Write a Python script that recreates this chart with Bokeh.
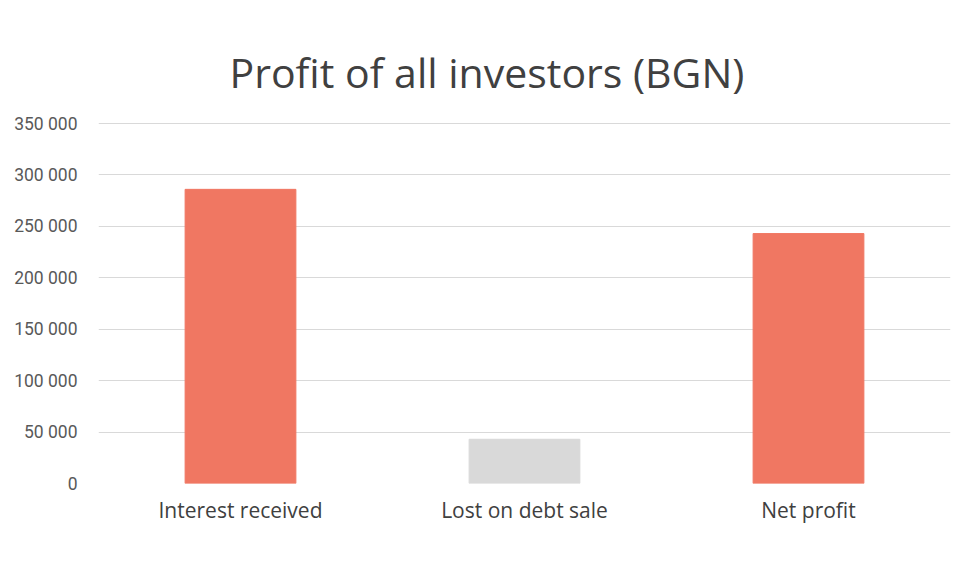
from bokeh.plotting import figure
from bokeh.models import FixedTicker
from bokeh.embed import file_html
from bokeh.resources import INLINE

# data
categories = ["Interest received", "Lost on debt sale", "Net profit"]
values = [286000, 43000, 243000]
colors = ["#F07762", "#D9D9D9", "#F07762"]
y_ticks = [0, 50000, 100000, 150000, 200000, 250000, 300000, 350000]
y_labels = ["0", "50 000", "100 000", "150 000", "200 000", "250 000", "300 000", "350 000"]

p = figure(x_range=categories, y_range=(0, 351000), width=959, height=552,
           output_backend="svg", toolbar_location=None,
           title="Profit of all investors (BGN)",
           min_border_left=98, min_border_right=9, min_border_top=122, min_border_bottom=69)

p.vbar(x=categories, top=values, width=0.39, color=colors)

# title is centred on the whole picture, not on the plot frame
p.title.align = "left"
p.title.offset = 131
p.title.text_font = "Open Sans"
p.title.text_font_style = "normal"
p.title.text_font_size = "41px"
p.title.text_color = "#404040"
p.title.standoff = 45

p.outline_line_color = None
p.background_fill_color = "white"
p.border_fill_color = "white"

p.xgrid.grid_line_color = None
p.ygrid.grid_line_color = "#D9D9D9"
p.ygrid.grid_line_width = 1

p.yaxis.ticker = FixedTicker(ticks=y_ticks)
p.yaxis.major_label_overrides = dict(zip(y_ticks, y_labels))
p.yaxis.axis_line_color = None
p.yaxis.major_tick_line_color = None
p.yaxis.minor_tick_line_color = None
p.yaxis.major_label_text_font = "Roboto"
p.yaxis.major_label_text_font_size = "17.5px"
p.yaxis.major_label_text_color = "#595959"
p.yaxis.major_label_standoff = 15

p.xaxis.axis_line_color = None
p.xaxis.major_tick_line_color = None
p.xaxis.major_label_text_font = "Open Sans"
p.xaxis.major_label_text_font_size = "21px"
p.xaxis.major_label_text_color = "#404040"
p.xaxis.major_label_standoff = 6

open("out.html", "w").write(file_html(p, INLINE))
